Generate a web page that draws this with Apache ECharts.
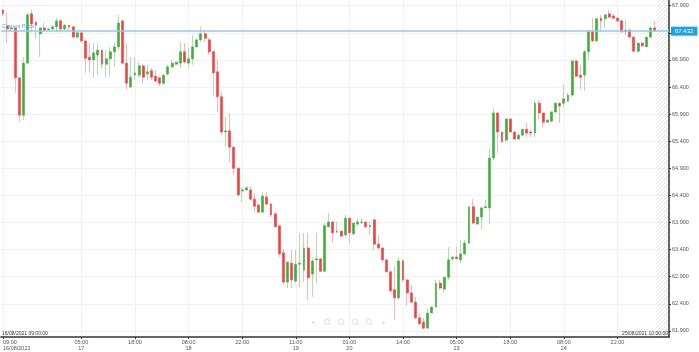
<!DOCTYPE html>
<html><head><meta charset="utf-8">
<script src="https://cdn.jsdelivr.net/npm/echarts@6/dist/echarts.min.js"></script>
<style>html,body{margin:0;padding:0;background:#fff}#c{width:699px;height:352px}</style>
</head><body><div id="c"></div>
<script>
// ---- data (hourly WTI candles) ----
const opens = [
67.82,67.53,67.47,67.49,66.57,65.88,66.84,67.75,67.60,67.38,
67.49,67.46,67.47,67.51,67.62,67.47,67.54,67.51,67.32,67.40,
67.25,66.95,66.90,66.99,67.08,66.82,66.92,67.05,67.14,67.62,
66.84,66.40,66.62,66.62,66.79,66.64,66.70,66.60,66.57,66.47,
66.64,66.77,66.82,66.84,67.05,66.84,66.92,67.14,67.27,67.38,
67.27,67.05,66.68,66.22,65.57,65.59,65.29,64.90,64.48,64.50,
64.50,64.33,64.22,64.09,64.37,64.24,64.06,63.84,63.34,62.80,
63.15,62.82,63.13,63.02,63.43,62.95,63.21,63.23,63.00,63.82,
63.91,63.72,63.74,63.67,63.98,63.69,63.87,63.90,63.91,63.82,
63.95,63.50,63.43,63.21,62.99,62.66,62.51,63.19,62.84,62.60,
62.43,62.14,62.06,61.95,62.23,62.34,62.78,62.67,62.89,63.23,
63.26,63.21,63.32,63.52,64.19,63.87,64.00,64.17,64.17,65.09,
65.92,65.57,65.42,65.81,65.57,65.44,65.51,65.62,65.57,65.55,
66.10,65.92,65.75,65.77,65.94,66.10,66.10,66.14,66.25,66.88,
66.62,66.62,67.05,67.42,67.25,67.67,67.66,67.75,67.71,67.67,
67.62,67.42,67.45,67.32,67.06,67.21,67.14,67.32,67.49];
const closes = [
67.75,67.47,67.49,66.57,65.88,66.84,67.73,67.56,67.54,67.49,
67.45,67.47,67.51,67.62,67.47,67.54,67.51,67.32,67.40,67.25,
66.93,66.90,67.03,67.08,66.82,66.92,67.05,67.14,67.58,66.84,
66.47,66.58,66.66,66.79,66.58,66.68,66.58,66.51,66.47,66.62,
66.77,66.84,66.86,67.05,66.86,66.92,67.14,67.27,67.38,67.30,
67.05,66.66,66.22,65.57,65.59,65.29,64.90,64.41,64.50,64.54,
64.33,64.20,64.09,64.39,64.24,64.04,63.82,63.32,62.80,63.17,
62.84,63.13,63.15,63.43,62.88,63.19,63.23,63.00,63.84,63.91,
63.71,63.74,63.65,63.98,63.71,63.89,63.91,63.91,63.82,63.85,
63.50,63.43,63.21,62.99,62.64,62.51,63.19,62.84,62.60,62.43,
62.14,62.03,61.95,62.23,62.34,62.78,62.69,62.89,63.21,63.26,
63.23,63.32,63.52,64.19,63.89,64.00,64.17,64.19,65.09,65.92,
65.57,65.39,65.81,65.57,65.44,65.51,65.62,65.55,65.55,66.10,
65.92,65.75,65.79,65.94,66.10,66.05,66.18,66.25,66.88,66.60,
66.58,67.05,67.42,67.25,67.66,67.62,67.73,67.69,67.67,67.62,
67.42,67.45,67.32,67.06,67.21,67.16,67.32,67.49,67.432];
const lows = [
67.71,67.21,67.43,66.29,65.75,65.79,66.84,67.40,67.30,66.95,
67.41,67.43,67.45,67.41,67.40,67.45,67.41,67.32,67.30,67.23,
66.66,66.66,66.57,66.62,66.75,66.57,66.58,66.77,67.08,66.81,
66.35,66.38,66.53,66.57,66.47,66.53,66.53,66.49,66.42,66.44,
66.60,66.75,66.81,66.75,66.84,66.77,66.81,67.13,67.23,67.23,
66.99,66.22,65.94,65.51,65.29,65.00,64.78,64.39,64.28,64.48,
64.31,64.09,64.08,64.08,64.22,64.00,63.82,63.26,62.78,62.69,
62.69,62.78,62.71,62.80,62.47,62.53,62.78,62.99,62.99,63.82,
63.52,63.72,63.63,63.63,63.52,63.67,63.84,63.87,63.80,63.67,
63.39,63.39,63.17,62.97,62.62,62.10,62.47,62.80,62.36,62.41,
62.12,62.01,61.93,61.95,62.23,62.34,62.66,62.60,62.84,63.19,
63.23,63.15,63.30,63.50,63.87,63.87,63.78,64.17,63.87,65.05,
65.18,65.37,65.37,65.56,65.42,65.42,65.51,65.48,65.48,65.48,
65.81,65.66,65.74,65.75,65.92,65.74,66.03,66.12,66.22,66.58,
66.35,66.33,66.90,67.23,67.23,67.42,67.49,67.67,67.66,67.58,
67.40,67.36,67.30,67.05,67.03,67.14,67.14,67.32,67.43];
const highs = [
67.84,67.77,67.53,67.49,66.57,66.95,67.77,67.82,67.60,67.49,
67.58,67.49,67.53,67.67,67.64,67.56,67.54,67.51,67.40,67.40,
67.25,67.21,67.21,67.21,67.08,67.08,67.14,67.21,67.73,67.64,
67.21,66.95,66.95,66.86,66.81,66.81,66.75,66.71,66.58,66.62,
66.81,66.90,66.87,67.23,67.21,67.12,67.36,67.28,67.51,67.45,
67.30,67.08,66.90,66.31,65.85,65.92,65.29,64.92,64.54,64.57,
64.57,64.44,64.24,64.46,64.46,64.26,64.08,63.84,63.41,63.17,
63.39,63.39,63.71,63.71,63.71,63.25,63.71,63.23,63.89,64.08,
63.91,63.91,63.74,64.04,63.98,63.89,63.98,63.98,63.91,63.91,
63.95,63.67,63.43,63.21,63.02,63.08,63.26,63.23,62.86,62.75,
62.53,62.23,62.14,62.32,62.34,62.84,62.84,62.89,63.45,63.28,
63.45,63.58,63.58,64.19,64.33,64.00,64.19,64.31,65.27,66.01,
65.94,65.57,65.81,65.81,65.57,65.55,65.63,65.74,65.61,66.16,
66.16,65.92,65.80,65.94,66.12,66.10,66.44,66.29,66.90,66.90,
66.81,67.08,67.45,67.67,67.67,67.73,67.75,67.82,67.75,67.69,
67.64,67.64,67.47,67.32,67.21,67.23,67.32,67.51,67.62];
const futureSlots = 3;          // empty hourly slots after the last candle
const tickLabels = [
  [0,'09:00\n16/08/2021'],[19,'05:00\n17'],[32,'18:00'],[45,'08:00\n18'],
  [58,'22:00'],[71,'11:00\n19'],[84,'01:00\n20'],[97,'14:00'],
  [110,'05:00\n23'],[123,'18:00'],[136,'08:00\n24'],[149,'22:00']];
const yTicks = [61.9,62.4,62.9,63.4,63.9,64.4,64.9,65.4,65.9,66.4,66.9,67.4,67.9];
const currentPrice = 67.432;
const rangeStart = '16/08/2021 09:00:00';
const rangeEnd = '25/08/2021 10:00:00';

// ---- build ----
const n = opens.length;
const categories = Array.from({length: n + futureSlots}, (_, i) => String(i));
const ohlc = opens.map((o, i) => [o, closes[i], lows[i], highs[i]]);
const bodies = opens.map((o, i) => [o, closes[i], Math.min(o, closes[i]), Math.max(o, closes[i])]);
const labelMap = new Map(tickLabels);
const showIdx = i => labelMap.has(i);

const UP = '#3fae3f', DOWN = '#f04343', UPW = '#b4dcb0', DOWNW = '#f5b7b7';
const LINE = '#8ccdec';
const FONT = '"Liberation Sans", Arial, sans-serif';

const chart = echarts.init(document.getElementById('c'), null, {renderer: 'canvas'});
const option = {
  animation: false,
  backgroundColor: '#fff',
  grid: {left: -1, right: 30, top: 0, bottom: 15},
  xAxis: {
    type: 'category', data: categories, boundaryGap: true,
    axisLine: {lineStyle: {color: '#333', width: 1.5}},
    axisTick: {show: true, alignWithLabel: true, interval: showIdx, length: 2, lineStyle: {color: '#333'}},
    axisLabel: {
      interval: showIdx, formatter: v => labelMap.get(Number(v)) || '',
      fontSize: 5.5, lineHeight: 5.5, color: '#555', margin: 3, fontFamily: FONT,
      alignMinLabel: 'left'
    },
    splitLine: {show: true, interval: showIdx, alignWithLabel: true, lineStyle: {color: '#f1f1f1', width: 1}}
  },
  yAxis: {
    type: 'value', position: 'right', min: 61.787, max: 68.005,
    axisLine: {show: true, lineStyle: {color: '#333', width: 1.5}},
    axisTick: {show: true, customValues: yTicks, length: 2, lineStyle: {color: '#333'}},
    axisLabel: {customValues: yTicks, formatter: v => v.toFixed(3), fontSize: 5.5, color: '#555', margin: 3, fontFamily: FONT},
    splitLine: {show: true, customValues: yTicks, lineStyle: {color: '#f1f1f1', width: 1}}
  },
  series: [
    {
      type: 'candlestick', data: ohlc, barWidth: 1, z: 2,
      itemStyle: {color: UPW, color0: DOWNW, borderColor: UPW, borderColor0: DOWNW, borderWidth: 1}
    },
    {
      type: 'candlestick', data: bodies, barWidth: 2.4, z: 3,
      itemStyle: {color: UP, color0: DOWN, borderColor: UP, borderColor0: DOWN, borderWidth: 0.6},
      markLine: {
        symbol: 'none', silent: true, animation: false, z: 5,
        lineStyle: {color: LINE, width: 1.5, type: 'solid', opacity: 1},
        label: {show: true, position: 'end', formatter: currentPrice.toFixed(3), backgroundColor: '#1fa3df',
                color: '#fff', fontSize: 6, fontFamily: FONT, padding: [2, 4, 1, 4], distance: 2},
        data: [
          {yAxis: currentPrice, lineStyle: {color: LINE, width: 1.5}}
        ]
      }
    }
  ]
};
chart.setOption(option);

// decorations: hatched future zone, current-price caption, range stamps, faint nav icons
const pc = document.createElement('canvas'); pc.width = 4; pc.height = 4;
const g = pc.getContext('2d'); g.strokeStyle = '#e4e4e4'; g.lineWidth = 1;
g.beginPath(); g.moveTo(0, 4); g.lineTo(4, 0); g.stroke();
const x0 = chart.convertToPixel({xAxisIndex: 0}, 0), x1 = chart.convertToPixel({xAxisIndex: 0}, 1);
const pitch = x1 - x0;
const hatchL = chart.convertToPixel({xAxisIndex: 0}, n) - pitch / 2;
const priceY = chart.convertToPixel({yAxisIndex: 0}, currentPrice);
const gridR = 699 - 30, gridB = 352 - 15;
const icon = '#dedede';
const mag = (cx, cy) => ([
  {type: 'circle', shape: {cx: cx, cy: cy - 1, r: 2.6}, style: {stroke: icon, fill: 'none', lineWidth: 1}, silent: true, z: 1},
  {type: 'line', shape: {x1: cx + 1.8, y1: cy + 0.8, x2: cx + 3.5, y2: cy + 2.6}, style: {stroke: icon, lineWidth: 1}, silent: true, z: 1}
]);
chart.setOption({
  graphic: [
    {type: 'rect', shape: {x: hatchL, y: 0, width: gridR - hatchL, height: gridB}, style: {fill: {image: pc, repeat: 'repeat'}}, silent: true, z: 0},
    {type: 'text', x: 2, y: priceY - 1.5, style: {text: 'Current Price', fontSize: 5.5, fill: '#4fb2e2', fontFamily: FONT, verticalAlign: 'bottom'}, silent: true, z: 21},
    {type: 'text', x: 2, y: gridB - 6, style: {text: rangeStart, fontSize: 5, fill: '#333', fontFamily: FONT}, silent: true, z: 10},
    {type: 'text', x: gridR - 1, y: gridB - 6, style: {text: rangeEnd, fontSize: 5, fill: '#333', fontFamily: FONT, align: 'right'}, silent: true, z: 10},
    {type: 'polygon', shape: {points: [[314.5, 320.5], [314.5, 325], [311.5, 322.7]]}, style: {fill: icon}, silent: true},
    {type: 'polygon', shape: {points: [[382.5, 320.5], [382.5, 325], [385.5, 322.7]]}, style: {fill: icon}, silent: true},
    ...mag(327, 322.7), ...mag(341, 322.7), ...mag(355, 322.7), ...mag(369, 322.7)
  ]
});
</script></body></html>
